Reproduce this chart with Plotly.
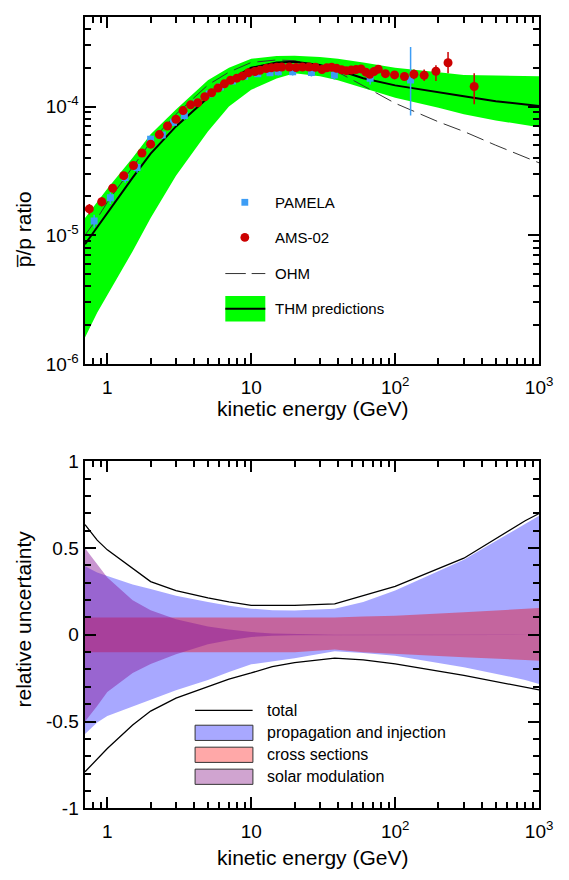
import plotly.graph_objects as go

# ---------------- antiproton / proton ratio (upper panel) ----------------
# model energy grid (GeV)
E_model = [0.7, 0.85, 1, 1.5, 2, 3, 5, 7, 10, 15, 20, 30, 40, 60, 100, 200, 300, 500, 1000]
thm_upper = [1.36e-5, 1.8e-5, 2.3e-5, 4.0e-5, 6.1e-5, 9.5e-5, 1.6e-4, 2.0e-4, 2.35e-4, 2.47e-4,
             2.48e-4, 2.43e-4, 2.35e-4, 2.2e-4, 2.0e-4, 1.85e-4, 1.76e-4, 1.74e-4, 1.72e-4]
thm_central = [8.5e-6, 1.15e-5, 1.5e-5, 2.8e-5, 4.3e-5, 7.0e-5, 1.17e-4, 1.6e-4, 2.0e-4, 2.2e-4,
               2.23e-4, 2.1e-4, 1.92e-4, 1.66e-4, 1.46e-4, 1.28e-4, 1.2e-4, 1.1e-4, 1.01e-4]
thm_lower = [1.6e-6, 2.5e-6, 3.4e-6, 7.5e-6, 1.36e-5, 2.9e-5, 6.4e-5, 1.0e-4, 1.35e-4, 1.65e-4,
             1.81e-4, 1.72e-4, 1.6e-4, 1.4e-4, 1.17e-4, 9.8e-5, 8.7e-5, 7.8e-5, 6.9e-5]
ohm = [1.0e-5, 1.35e-5, 1.8e-5, 3.4e-5, 5.3e-5, 8.7e-5, 1.47e-4, 1.85e-4, 2.2e-4, 2.3e-4,
       2.27e-4, 2.05e-4, 1.85e-4, 1.45e-4, 1.06e-4, 7.6e-5, 6.4e-5, 5.0e-5, 3.65e-5]

# PAMELA measurements
pam_E = [0.81, 1.05, 1.33, 1.61, 2.0, 2.41, 2.88, 3.43, 4.2, 5.1, 6.1, 7.4, 9.0, 11.1, 13.5,
         15.4, 19.4, 26.2, 37.8, 67, 128]
pam_r = [1.29e-5, 1.95e-5, 2.81e-5, 3.35e-5, 5.56e-5, 6.0e-5, 7.56e-5, 8.5e-5, 1.07e-4, 1.25e-4,
         1.42e-4, 1.58e-4, 1.72e-4, 1.80e-4, 1.83e-4, 1.86e-4, 1.86e-4, 1.84e-4, 1.76e-4,
         1.66e-4, 1.61e-4]
pam_err_up = [1.5e-6, 2e-6, 2.5e-6, 3e-6, 4e-6, 4e-6, 5e-6, 6e-6, 7e-6, 7e-6, 8e-6, 8e-6, 9e-6,
              1e-5, 1e-5, 1.2e-5, 1.2e-5, 1.3e-5, 1.4e-5, 2.0e-5, 1.29e-4]
pam_err_dn = [1.5e-6, 2e-6, 2.5e-6, 3e-6, 4e-6, 4e-6, 5e-6, 6e-6, 7e-6, 7e-6, 8e-6, 8e-6, 9e-6,
              1e-5, 1e-5, 1.2e-5, 1.2e-5, 1.3e-5, 1.4e-5, 1.8e-5, 7.6e-5]

# AMS-02 measurements
ams_E = [0.75, 0.915, 1.09, 1.30, 1.52, 1.74, 2.0, 2.30, 2.62, 3.0, 3.36, 3.79, 4.25, 4.76, 5.31,
         5.87, 6.51, 7.18, 7.94, 8.71, 9.57, 10.6, 11.5, 12.7, 13.8, 15.0, 16.3, 18.4, 20.5, 22.7,
         25.2, 27.9, 31.0, 33.5, 36.2, 39.2, 42.4, 45.8, 49.5, 53.5, 57.9, 62.6, 66.6, 71.3, 76.3,
         85.6, 99, 116, 135, 159, 192, 233, 354]
ams_r = [1.6e-5, 1.82e-5, 2.32e-5, 2.9e-5, 3.48e-5, 4.35e-5, 5.1e-5, 6.05e-5, 7.05e-5, 7.96e-5,
         9.3e-5, 1.03e-4, 1.07e-4, 1.19e-4, 1.28e-4, 1.39e-4, 1.50e-4, 1.60e-4, 1.66e-4, 1.73e-4,
         1.83e-4, 1.87e-4, 1.91e-4, 1.97e-4, 2.0e-4, 2.02e-4, 2.03e-4, 2.03e-4, 2.01e-4, 2.03e-4,
         2.03e-4, 2.02e-4, 1.94e-4, 2.0e-4, 2.02e-4, 1.98e-4, 1.93e-4, 1.90e-4, 1.92e-4, 1.94e-4,
         1.96e-4, 1.85e-4, 1.78e-4, 1.87e-4, 1.95e-4, 1.80e-4, 1.76e-4, 1.71e-4, 1.78e-4, 1.75e-4,
         1.88e-4, 2.19e-4, 1.43e-4]
ams_err_up = [1.5e-6, 1.5e-6, 1.8e-6, 2e-6, 2e-6, 2.5e-6, 3e-6, 3e-6, 3e-6, 3e-6, 3.5e-6, 4e-6,
              4e-6, 4e-6, 4e-6, 4e-6, 4e-6, 4e-6, 4e-6, 4e-6, 4e-6, 4e-6, 4e-6, 4e-6, 4e-6,
              4e-6, 4e-6, 4e-6, 4e-6, 4e-6, 4e-6, 4e-6, 4e-6, 4e-6, 4e-6, 5e-6, 5e-6, 5e-6, 5e-6,
              6e-6, 6e-6, 7e-6, 8e-6, 8e-6, 9e-6, 1.0e-5, 1.1e-5, 1.3e-5, 1.6e-5, 1.9e-5, 2.1e-5,
              4.6e-5, 3.8e-5]
ams_err_dn = [1.5e-6, 1.5e-6, 1.8e-6, 2e-6, 2e-6, 2.5e-6, 3e-6, 3e-6, 3e-6, 3e-6, 3.5e-6, 4e-6,
              4e-6, 4e-6, 4e-6, 4e-6, 4e-6, 4e-6, 4e-6, 4e-6, 4e-6, 4e-6, 4e-6, 4e-6, 4e-6,
              4e-6, 4e-6, 4e-6, 4e-6, 4e-6, 4e-6, 4e-6, 4e-6, 4e-6, 4e-6, 5e-6, 5e-6, 5e-6, 5e-6,
              6e-6, 6e-6, 7e-6, 8e-6, 8e-6, 9e-6, 1.0e-5, 1.1e-5, 1.3e-5, 1.5e-5, 1.7e-5, 3.0e-5,
              3.8e-5, 3.9e-5]

# ---------------- relative uncertainty budget (lower panel) ----------------
E_unc = [0.7, 0.85, 1, 1.5, 2, 3, 5, 7, 10, 14, 20, 38, 60, 100, 300, 800, 1000]
total_hi = [0.636, 0.546, 0.49, 0.38, 0.307, 0.255, 0.213, 0.19, 0.17, 0.17, 0.17, 0.178, 0.225,
            0.28, 0.442, 0.658, 0.70]
total_lo = [-0.79, -0.72, -0.656, -0.52, -0.44, -0.365, -0.30, -0.255, -0.22, -0.183, -0.16,
            -0.134, -0.145, -0.168, -0.234, -0.30, -0.318]
prop_hi = [0.395, 0.36, 0.34, 0.29, 0.264, 0.225, 0.189, 0.168, 0.151, 0.142, 0.14, 0.151, 0.19,
           0.255, 0.433, 0.64, 0.687]
prop_lo = [-0.572, -0.506, -0.468, -0.41, -0.375, -0.32, -0.26, -0.215, -0.17, -0.155, -0.135,
           -0.095, -0.105, -0.121, -0.187, -0.26, -0.284]
cross_hi = [0.1, 0.1, 0.1, 0.1, 0.1, 0.1, 0.1, 0.1, 0.1, 0.1, 0.1, 0.1, 0.105, 0.11, 0.13, 0.15,
            0.155]
cross_lo = [-0.1, -0.1, -0.1, -0.1, -0.1, -0.1, -0.1, -0.1, -0.1, -0.1, -0.1, -0.085, -0.1,
            -0.11, -0.13, -0.145, -0.15]
solar_hi = [0.5, 0.41, 0.33, 0.2, 0.142, 0.09, 0.048, 0.03, 0.016, 0.008, 0.004, 0.0, 0.0, 0.0,
            0.0, 0.0, 0.0]
solar_lo = [-0.5, -0.41, -0.33, -0.22, -0.168, -0.112, -0.055, -0.032, -0.012, -0.006, -0.003,
            0.0, 0.0, 0.0, 0.0, 0.0, 0.0]

# tick labels
x_tickvals = [1, 10, 100, 1000]
x_ticktext = ["1", "10", "10<sup>2</sup>", "10<sup>3</sup>"]
y_top_tickvals = [1e-6, 1e-5, 1e-4]
y_top_ticktext = ["10<sup>-6</sup>", "10<sup>-5</sup>", "10<sup>-4</sup>"]
y_bot_tickvals = [-1, -0.5, 0, 0.5, 1]
y_bot_ticktext = ["-1", "-0.5", "0", "0.5", "1"]

W, H = 569, 880
FONT = "Liberation Sans, Arial, Helvetica, sans-serif"
GREEN = "#00ff00"
PAM_BLUE = "#3d9df5"
AMS_RED = "#cc0000"


def px(x):
    return x / W


def py(y):
    return 1 - y / H


def band(x, hi, lo):
    return list(x) + list(x)[::-1], list(hi) + list(lo)[::-1]


fig = go.Figure()

# THM uncertainty band
bx, by = band(E_model, thm_upper, thm_lower)
fig.add_trace(go.Scatter(x=bx, y=by, fill="toself", fillcolor=GREEN, mode="lines",
                         line=dict(width=0, color=GREEN), hoverinfo="skip",
                         xaxis="x", yaxis="y", showlegend=False))
# OHM
fig.add_trace(go.Scatter(x=E_model, y=ohm, mode="lines", line=dict(color="#333333", width=1,
                         dash="18px,7px"), xaxis="x", yaxis="y", showlegend=False))
# THM central
fig.add_trace(go.Scatter(x=E_model, y=thm_central, mode="lines",
                         line=dict(color="black", width=2), xaxis="x", yaxis="y",
                         showlegend=False))
# PAMELA
fig.add_trace(go.Scatter(x=pam_E, y=pam_r, mode="markers",
                         marker=dict(symbol="square", size=7, color=PAM_BLUE),
                         error_y=dict(type="data", symmetric=False, array=pam_err_up,
                                      arrayminus=pam_err_dn, color=PAM_BLUE, thickness=1.5,
                                      width=0),
                         xaxis="x", yaxis="y", showlegend=False))
# AMS-02
fig.add_trace(go.Scatter(x=ams_E, y=ams_r, mode="markers",
                         marker=dict(symbol="circle", size=9, color=AMS_RED),
                         error_y=dict(type="data", symmetric=False, array=ams_err_up,
                                      arrayminus=ams_err_dn, color=AMS_RED, thickness=1.5,
                                      width=0),
                         xaxis="x", yaxis="y", showlegend=False))

# uncertainty bands, lower panel
PROP_FILL = "rgba(81,81,255,0.5)"
CROSS_FILL = "rgba(215,56,93,0.6)"
SOLAR_FILL = "rgba(135,21,150,0.45)"
for hi, lo, col in [(prop_hi, prop_lo, PROP_FILL), (cross_hi, cross_lo, CROSS_FILL),
                    (solar_hi, solar_lo, SOLAR_FILL)]:
    bx, by = band(E_unc, hi, lo)
    fig.add_trace(go.Scatter(x=bx, y=by, fill="toself", fillcolor=col, mode="lines",
                             line=dict(width=0, color=col), hoverinfo="skip",
                             xaxis="x2", yaxis="y2", showlegend=False))
for edge in (total_hi, total_lo):
    fig.add_trace(go.Scatter(x=E_unc, y=edge, mode="lines", line=dict(color="black", width=1.3),
                             xaxis="x2", yaxis="y2", showlegend=False))

# minor tick positions
x_minor = [k * 10 ** e for e in range(-1, 3) for k in range(2, 10) if 0.69 < k * 10 ** e < 1000]
y_minor = [k * 10 ** e for e in range(-6, -3) for k in range(2, 10)]

axis_common = dict(showline=True, linecolor="black", linewidth=2, mirror="allticks",
                   ticks="inside", ticklen=11, tickwidth=1.5, tickcolor="black",
                   showgrid=False, zeroline=False,
                   tickfont=dict(family=FONT, size=19, color="black"))

xa = dict(axis_common, type="log", range=[-0.158, 3], tickmode="array", tickvals=x_tickvals,
          ticktext=x_ticktext, ticklabelstandoff=5,
          minor=dict(tickmode="array", tickvals=x_minor, ticks="inside", ticklen=6,
                     tickwidth=1.5, tickcolor="black"))

fig.update_layout(
    width=W, height=H, margin=dict(l=0, r=0, t=0, b=0),
    paper_bgcolor="white", plot_bgcolor="white", showlegend=False,
    font=dict(family=FONT, color="black"),
    xaxis=dict(xa, domain=[px(86.7), px(552.7)], anchor="y"),
    yaxis=dict(axis_common, type="log", range=[-6, -3.303], domain=[py(362.5), py(7)],
               anchor="x", tickmode="array", tickvals=y_top_tickvals, ticktext=y_top_ticktext,
               minor=dict(tickmode="array", tickvals=y_minor, ticks="inside", ticklen=6,
                          tickwidth=1.5, tickcolor="black")),
    xaxis2=dict(xa, domain=[px(86.7), px(552.7)], anchor="y2"),
    yaxis2=dict(axis_common, range=[-1, 1], domain=[py(817.7), py(462.5)], anchor="x2",
                tickmode="array", tickvals=y_bot_tickvals, ticktext=y_bot_ticktext,
                minor=dict(tickmode="linear", tick0=0, dtick=0.1, ticks="inside", ticklen=6,
                           tickwidth=1.5, tickcolor="black")),
)

shapes = []
annotations = []


def text(x, y, s, size=15, xanchor="left", angle=0):
    annotations.append(dict(x=px(x), y=py(y), xref="paper", yref="paper", text=s,
                            showarrow=False, xanchor=xanchor, yanchor="middle",
                            textangle=angle, font=dict(family=FONT, size=size, color="black")))


# axis titles
text(320, 408, "kinetic energy (GeV)", size=21, xanchor="center")
text(320, 868, "kinetic energy (GeV)", size=21, xanchor="center")
text(24, 225, "p\u0305/p ratio", size=21, xanchor="center", angle=-90)
text(24, 624, "relative uncertainty", size=21, xanchor="center", angle=-90)

# legend, upper panel
shapes.append(dict(type="rect", xref="paper", yref="paper", x0=px(247.5), x1=px(254.5),
                   y0=py(200.5), y1=py(193.5), fillcolor=PAM_BLUE, line=dict(width=0)))
text(280, 197, "PAMELA")
shapes.append(dict(type="circle", xref="paper", yref="paper", x0=px(246.5), x1=px(255.5),
                   y0=py(237.5), y1=py(228.5), fillcolor=AMS_RED, line=dict(width=0)))
text(280, 233, "AMS-02")
shapes.append(dict(type="line", xref="paper", yref="paper", x0=px(231), x1=px(252),
                   y0=py(270), y1=py(270), line=dict(color="#333333", width=1)))
shapes.append(dict(type="line", xref="paper", yref="paper", x0=px(258), x1=px(272),
                   y0=py(270), y1=py(270), line=dict(color="#333333", width=1)))
text(280, 270, "OHM")
shapes.append(dict(type="rect", xref="paper", yref="paper", x0=px(231), x1=px(272),
                   y0=py(319), y1=py(293), fillcolor=GREEN, line=dict(width=0)))
shapes.append(dict(type="line", xref="paper", yref="paper", x0=px(231), x1=px(272),
                   y0=py(306), y1=py(306), line=dict(color="black", width=2)))
text(280, 306, "THM predictions")

# legend, lower panel
shapes.append(dict(type="line", xref="paper", yref="paper", x0=px(200), x1=px(259),
                   y0=py(717.5), y1=py(717.5), line=dict(color="black", width=1.3)))
text(272, 717.5, "total", size=16)
for yc, col, lab in [(740.5, "#a8a8ff", "propagation and injection"),
                     (763, "#ffa8a8", "cross sections"),
                     (785.5, "#d0a4d0", "solar modulation")]:
    shapes.append(dict(type="rect", xref="paper", yref="paper", x0=px(200), x1=px(259.3),
                       y0=py(yc + 7.8), y1=py(yc - 7.8), fillcolor=col,
                       line=dict(color="#333333", width=1)))
    text(272, yc, lab, size=16)

fig.update_layout(shapes=shapes, annotations=annotations)
fig.write_html("out.html")
